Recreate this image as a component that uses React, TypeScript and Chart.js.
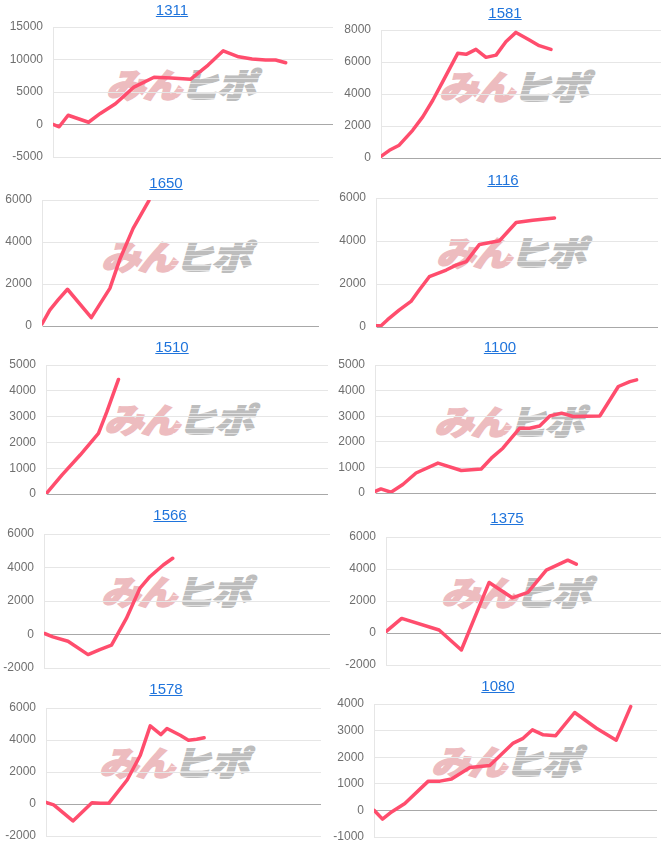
import React, { useEffect, useRef } from "react";
import { Chart, registerables } from "chart.js";
Chart.register(...registerables);

// ---- data (x = position along the period, 0..100; y = profit) ----
const titles = ["1311", "1581", "1650", "1116", "1510", "1100", "1566", "1375", "1578", "1080"];

const x1311 = [0, 2.2, 5.4, 12.7, 16.9, 22.3, 28.9, 36.1, 42.2, 49.2, 55.4, 60.8, 66.3, 71.1, 75.9, 79.5, 83.1];
const y1311 = [0, -350, 1420, 350, 1700, 3200, 5750, 7270, 7170, 6970, 9150, 11340, 10420, 10070, 9920, 9920, 9510];

const x1581 = [0, 3, 6.5, 11.3, 14.9, 18.5, 22, 27.4, 30.4, 33.9, 37.5, 41.1, 44.6, 48.2, 53, 56.5, 60.7];
const y1581 = [100, 480, 800, 1730, 2570, 3610, 4760, 6540, 6480, 6790, 6290, 6430, 7270, 7850, 7370, 7020, 6790];

const x1650 = [0, 2.8, 5.8, 9.2, 17.8, 24.5, 28, 32.9, 38.6];
const y1650 = [95, 760, 1240, 1750, 400, 1790, 3140, 4650, 5970];

const x1116 = [0.2, 1.8, 4.1, 8.3, 12.4, 15.4, 18.9, 24.9, 28.4, 32, 36.7, 43.8, 49.7, 55.6, 63.3];
const y1116 = [60, 60, 340, 800, 1190, 1730, 2340, 2650, 2880, 3040, 3840, 4010, 4860, 4970, 5070];

const x1510 = [0.4, 5.7, 12.1, 18.6, 21.6, 25.7];
const y1510 = [50, 740, 1510, 2350, 3190, 4440];

const x1100 = [0.1, 2.1, 5.7, 9.9, 14.6, 22.4, 30.7, 37.8, 41.4, 45.5, 51.5, 55, 58.6, 62.2, 66.4, 70.5, 80, 86.6, 90.7, 93.1];
const y1100 = [65, 160, 30, 330, 780, 1170, 880, 940, 1360, 1750, 2530, 2530, 2620, 3010, 3120, 2990, 3010, 4160, 4350, 4420];

const x1566 = [0.2, 3.1, 8.4, 15.4, 19.5, 23.6, 28.8, 33.5, 37, 41.7, 45];
const y1566 = [60, -140, -400, -1200, -900, -640, 960, 2750, 3450, 4150, 4550];

const x1375 = [0.2, 5.7, 19.3, 27.4, 37.5, 45.9, 51.6, 58.3, 66.1, 69.2];
const y1375 = [120, 910, 190, -1060, 3160, 2200, 2540, 3930, 4550, 4300];

const x1578 = [0, 2.8, 9.8, 16.7, 19.8, 22.8, 29.5, 34.3, 37.9, 41.8, 44, 48.8, 51.8, 54.8, 57.5];
const y1578 = [100, -60, -1060, 80, 40, 40, 1500, 3050, 4880, 4340, 4720, 4300, 3990, 4050, 4140];

const x1080 = [0.1, 3, 6.2, 10.9, 19.2, 23.3, 27.4, 33.9, 40.9, 49.2, 52.7, 56, 59.8, 64.2, 70.9, 78.6, 85.6, 90.7];
const y1080 = [0, -330, -60, 260, 1100, 1100, 1180, 1610, 1690, 2530, 2710, 3030, 2840, 2810, 3680, 3090, 2640, 3900];

// y tick ranges: [min, max, step]
const ticks1311 = [-5000, 15000, 5000];
const ticks1581 = [0, 8000, 2000];
const ticks1650 = [0, 6000, 2000];
const ticks1116 = [0, 6000, 2000];
const ticks1510 = [0, 5000, 1000];
const ticks1100 = [0, 5000, 1000];
const ticks1566 = [-2000, 6000, 2000];
const ticks1375 = [-2000, 6000, 2000];
const ticks1578 = [-2000, 6000, 2000];
const ticks1080 = [-1000, 4000, 1000];

const seriesX = [x1311, x1581, x1650, x1116, x1510, x1100, x1566, x1375, x1578, x1080];
const seriesY = [y1311, y1581, y1650, y1116, y1510, y1100, y1566, y1375, y1578, y1080];
const tickSets = [ticks1311, ticks1581, ticks1650, ticks1116, ticks1510, ticks1100, ticks1566, ticks1375, ticks1578, ticks1080];

// ---- layout: plot rect [left, top, right, bottom], title center [x, y], watermark [left, top] ----
const plotRects = [
  [53, 27, 333, 157], [381, 30, 661, 158],
  [42, 200, 319, 326], [376, 198, 658, 327],
  [46, 365, 328, 494], [375, 365, 656, 493],
  [44, 534, 330, 668], [386, 537, 661, 665],
  [46, 708, 321, 836], [374, 704, 657, 837],
];
const titlePos = [
  [172, 9.5], [505, 12.5], [166, 182.5], [503, 180], [172, 347],
  [500, 347], [170, 514.5], [507, 518], [166, 689], [498, 686],
];
const markPos = [
  [110, 70], [443, 72], [105, 242], [440, 238], [108, 405],
  [438, 407], [105, 577], [445, 578], [103, 748], [435, 747],
];

const AXIS_W = 50;
const PAD_V = 12;
const LINE_COLOR = "#ff4d6d";

function Panel({ idx }: { idx: number }) {
  const ref = useRef<HTMLCanvasElement | null>(null);
  const [l, t, r, b] = plotRects[idx];
  const w = r - l + AXIS_W;
  const h = b - t + PAD_V * 2;

  useEffect(() => {
    const xs = seriesX[idx];
    const ys = seriesY[idx];
    const [mn, mx, st] = tickSets[idx];
    const chart = new Chart(ref.current as HTMLCanvasElement, {
      type: "line",
      data: {
        datasets: [
          {
            data: xs.map((x, i) => ({ x, y: ys[i] })),
            borderColor: LINE_COLOR,
            borderWidth: 3.5,
            pointRadius: 0,
            tension: 0,
            fill: false,
            borderJoinStyle: "round",
            borderCapStyle: "round",
          },
        ],
      },
      options: {
        responsive: false,
        animation: false,
        layout: { padding: { top: PAD_V, bottom: PAD_V, left: 0, right: 0 } },
        plugins: { legend: { display: false }, tooltip: { enabled: false } },
        scales: {
          x: { type: "linear", min: 0, max: 100, display: false },
          y: {
            min: mn,
            max: mx,
            afterFit: (s: any) => {
              s.width = AXIS_W;
            },
            ticks: {
              stepSize: st,
              padding: 3,
              color: "#6f6f6f",
              font: { family: "'Liberation Sans', Arial, sans-serif", size: 12 },
              callback: (v: any) => String(v),
            },
            grid: {
              drawTicks: true,
              tickLength: 7,
              tickColor: "rgba(0,0,0,0)",
              color: (c: any) => (c.tick && c.tick.value === 0 ? "#a8a8a8" : "#e6e6e6"),
              lineWidth: 1,
            },
            border: { display: true, color: "#e6e6e6" },
          },
        },
      },
    });
    return () => chart.destroy();
  }, [idx]);

  const [tx, ty] = titlePos[idx];
  const [mx0, my0] = markPos[idx];
  return (
    <>
      <div
        style={{
          position: "absolute",
          left: mx0,
          top: my0 - 1,
          height: 30,
          lineHeight: "30px",
          whiteSpace: "nowrap",
          fontFamily: "'Noto Sans CJK JP', sans-serif",
          fontWeight: 900,
          fontSize: 34,
          transform: "skewX(-16deg) scaleX(1.15)",
          transformOrigin: "left center",
          letterSpacing: -2,
        }}
      >
        <span style={{ color: "#edbcbf", WebkitTextStroke: "1.6px #edbcbf" }}>みん</span>
        <span style={{ position: "relative", display: "inline-block" }}>
          <span style={{ color: "#bdbdbd", WebkitTextStroke: "1.6px #bdbdbd" }}>ヒポ</span>
          <span
            style={{
              position: "absolute",
              left: -4,
              right: -4,
              top: 0,
              bottom: 0,
              backgroundImage:
                "repeating-linear-gradient(180deg, rgba(255,255,255,0) 0px, rgba(255,255,255,0) 4px, rgba(255,255,255,0.55) 4px, rgba(255,255,255,0.55) 5px)",
            }}
          />
        </span>
      </div>
      <canvas
        ref={ref}
        width={w}
        height={h}
        style={{ position: "absolute", left: l - AXIS_W, top: t - PAD_V, width: w, height: h }}
      />
      <div
        style={{
          position: "absolute",
          left: tx - 60,
          width: 120,
          top: ty - 8.8,
          height: 18,
          lineHeight: "18px",
          textAlign: "center",
          fontFamily: "'Liberation Sans', Arial, sans-serif",
          fontSize: 15,
        }}
      >
        <span style={{ color: "#1f74dc", textDecoration: "underline" }}>{titles[idx]}</span>
      </div>
    </>
  );
}

export default function App() {
  return (
    <div
      style={{
        position: "fixed",
        left: 0,
        top: 0,
        width: 666,
        height: 846,
        background: "#ffffff",
        overflow: "hidden",
      }}
    >
      {titles.map((_, i) => (
        <Panel key={i} idx={i} />
      ))}
    </div>
  );
}
